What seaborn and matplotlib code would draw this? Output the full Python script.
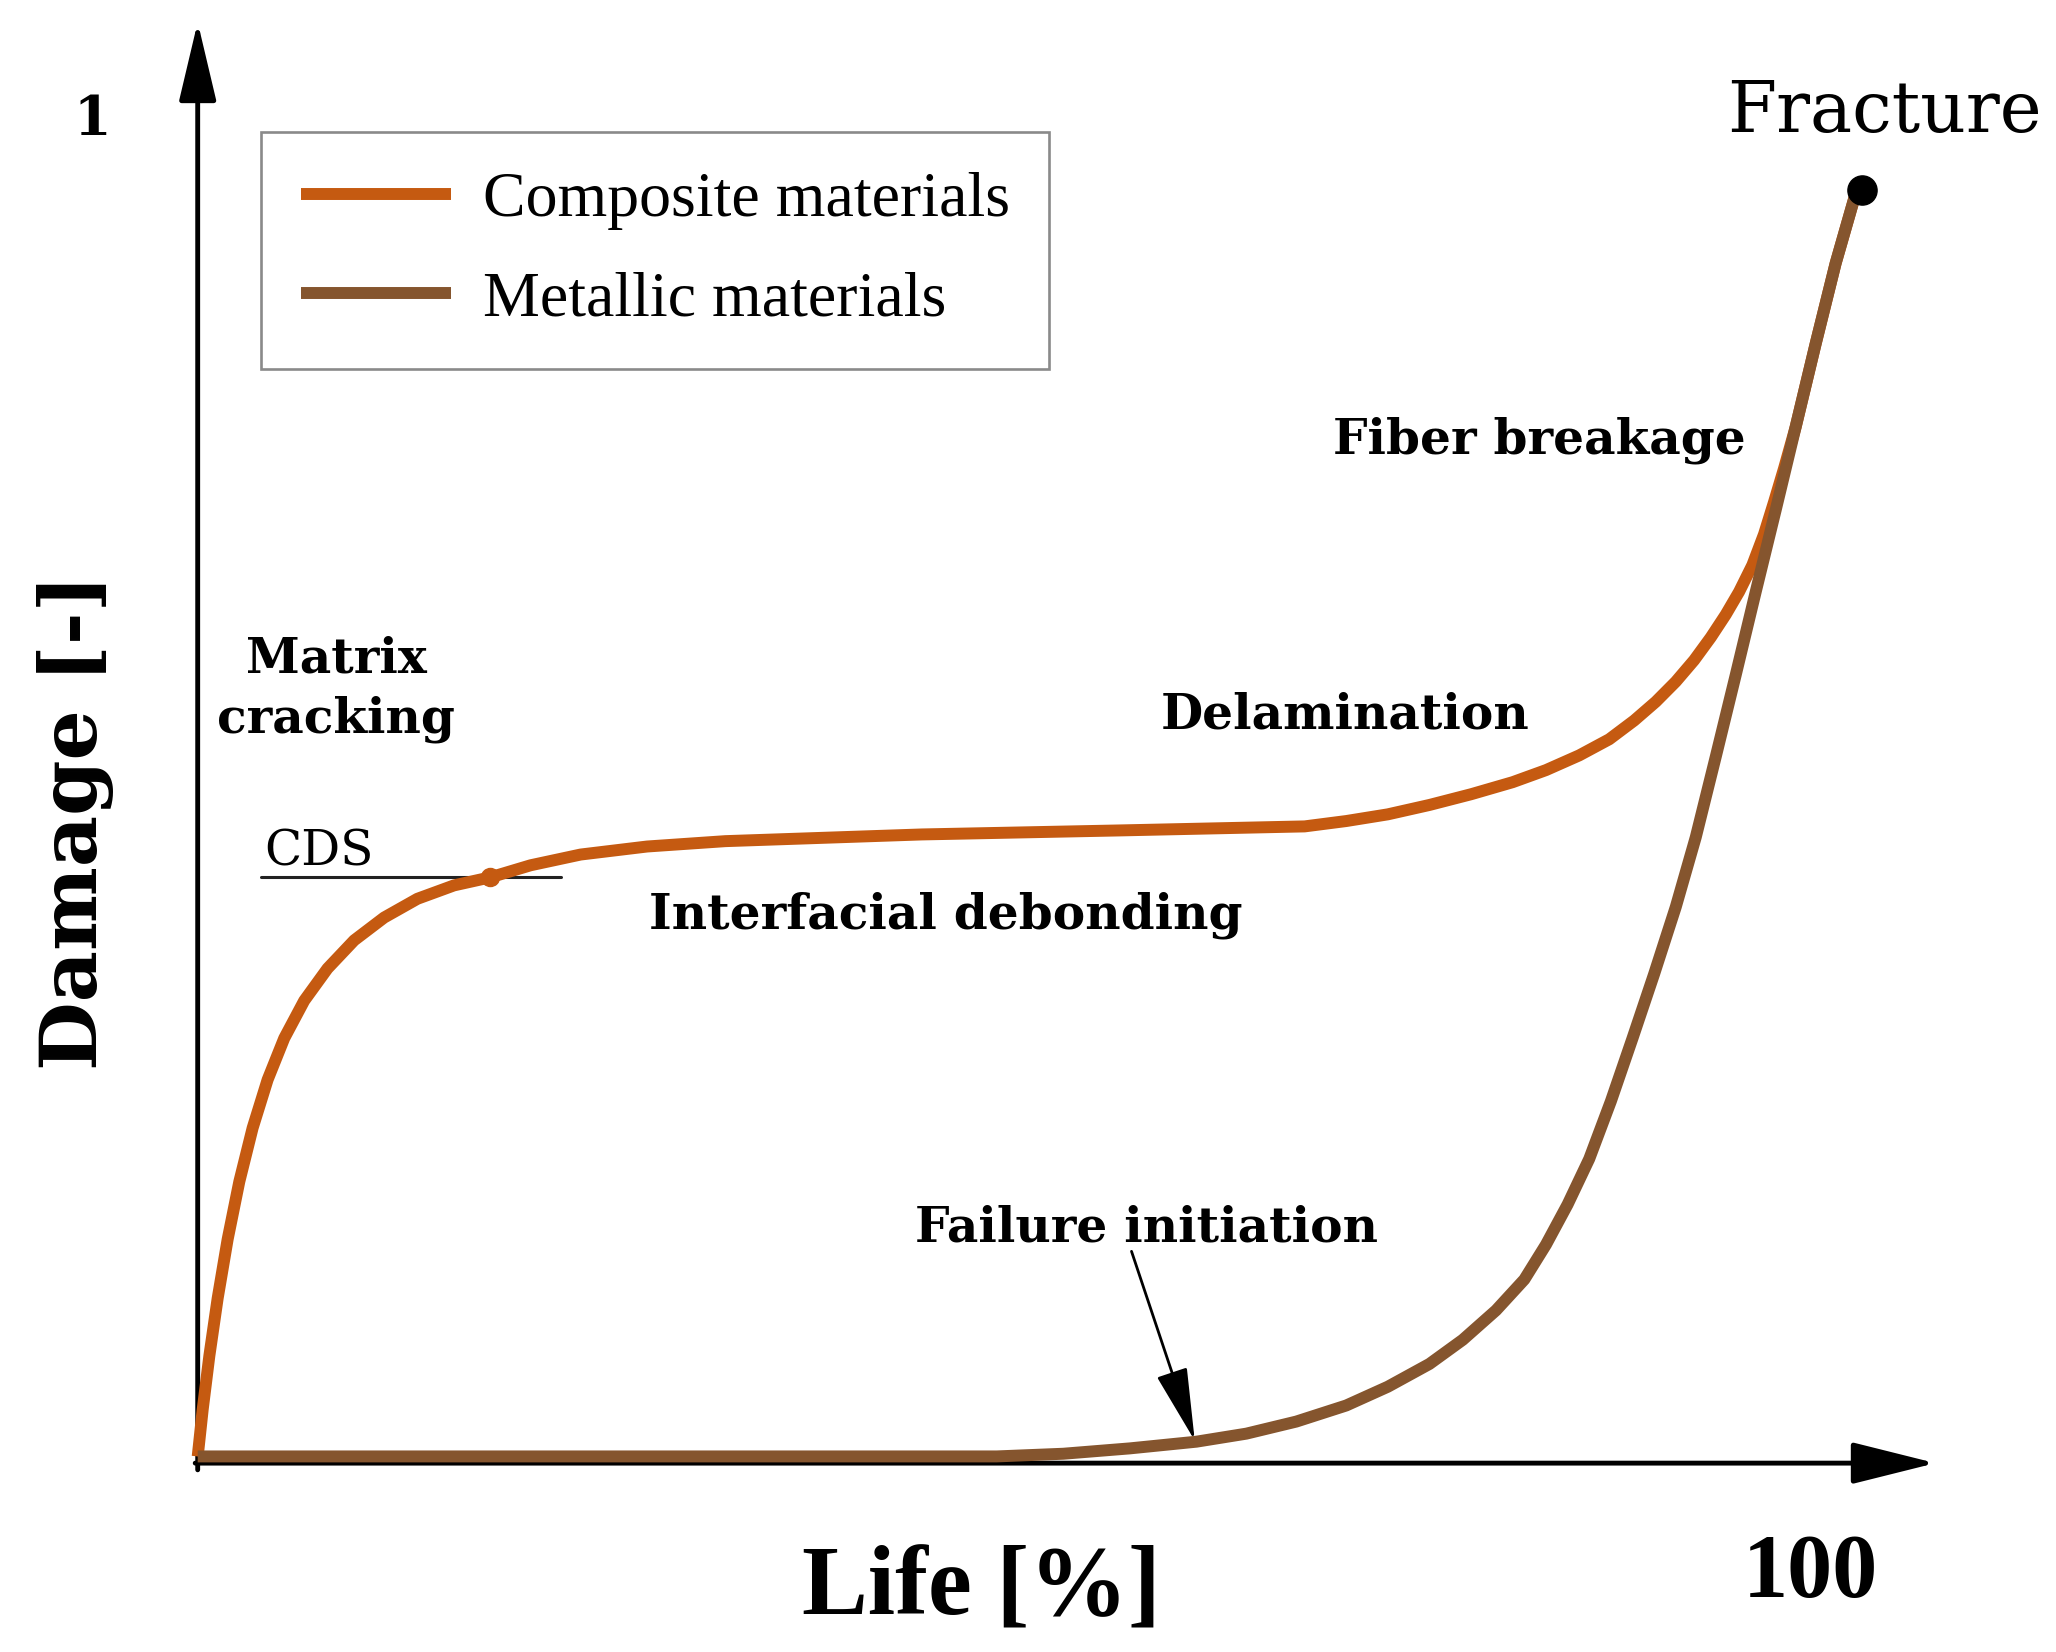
import matplotlib
matplotlib.use("Agg")
import matplotlib.pyplot as plt
from matplotlib.lines import Line2D
import pandas as pd
import seaborn as sns

# values (Life in %, Damage from 0 to 1)
life_composite = [0, 0.3, 0.7, 1.2, 1.8, 2.5, 3.3, 4.2, 5.2, 6.4, 7.8, 9.4, 11.2,
                  13.2, 15.4, 17.58, 20.0, 23.0, 27.0, 31.7, 43.5, 55.4, 66.5,
                  69.0, 71.5, 74.0, 76.5, 79.0, 81.0, 83.0, 84.8, 86.3, 87.6,
                  88.8, 89.9, 90.9, 91.8, 92.6, 93.4, 94.1, 94.7, 95.3, 96.0,
                  97.2, 98.4, 99.6]
damage_composite = [0, 0.035, 0.075, 0.118, 0.162, 0.205, 0.245, 0.281, 0.312,
                    0.340, 0.364, 0.385, 0.402, 0.416, 0.426, 0.432, 0.441, 0.449,
                    0.455, 0.459, 0.464, 0.467, 0.470, 0.474, 0.479, 0.486, 0.494,
                    0.503, 0.512, 0.523, 0.535, 0.549, 0.563, 0.578, 0.594, 0.611,
                    0.628, 0.645, 0.665, 0.688, 0.712, 0.737, 0.768, 0.830, 0.890,
                    0.942]

life_metal = [0, 48, 52, 56, 60, 63, 66, 69, 71.5, 74, 76, 78, 79.7, 81.0, 82.3,
              83.6, 84.9, 86.2, 87.5, 88.8, 90.0, 91.2, 92.4, 93.6, 94.8, 96.0,
              97.2, 98.4, 99.6]
damage_metal = [0, 0, 0.002, 0.006, 0.011, 0.017, 0.026, 0.038, 0.052, 0.069,
                0.087, 0.109, 0.132, 0.158, 0.188, 0.222, 0.265, 0.312, 0.360,
                0.410, 0.462, 0.522, 0.583, 0.645, 0.706, 0.768, 0.830, 0.890,
                0.942]

materials = ["Composite materials", "Metallic materials"]
colors = {"Composite materials": "#C55A11", "Metallic materials": "#85552E"}

cds_life, cds_damage = 17.58, 0.432
fracture_life, fracture_damage = 100, 0.945
failure_life, failure_damage = 59.9, 0.0118

df = pd.concat([
    pd.DataFrame({"Life": life_composite, "Damage": damage_composite, "Material": materials[0]}),
    pd.DataFrame({"Life": life_metal, "Damage": damage_metal, "Material": materials[1]}),
], ignore_index=True)

sns.set_theme(style="white")
plt.rcParams["font.family"] = ["DejaVu Serif", "DejaVu Sans"]
plt.rcParams["text.color"] = "black"

fig = plt.figure(figsize=(20.56, 16.52), dpi=100)
ax = fig.add_axes([0, 0, 1, 1])
ax.set_xlim(-11.877, 111.64)
ax.set_ylim(-0.1459, 1.0865)
ax.set_axis_off()

# axes drawn as arrows
ax.annotate("", xy=(104.4, -0.005), xytext=(-0.15, -0.005),
            arrowprops=dict(arrowstyle="-|>,head_length=2.6,head_width=0.65",
                            color="black", lw=3.5, shrinkA=0, shrinkB=0,
                            mutation_scale=20), zorder=1)
ax.annotate("", xy=(0, 1.07), xytext=(0, -0.01),
            arrowprops=dict(arrowstyle="-|>,head_length=2.45,head_width=0.58",
                            color="black", lw=3.5, shrinkA=0, shrinkB=0,
                            mutation_scale=20), zorder=1)

sns.lineplot(data=df, x="Life", y="Damage", hue="Material", hue_order=materials,
             palette=colors, linewidth=8.6, estimator=None, sort=False,
             legend=False, ax=ax, zorder=3)
for line in ax.get_lines():
    line.set_solid_capstyle("butt")
    line.set_solid_joinstyle("round")

# CDS marker and line
ax.plot([3.8, 21.8], [cds_damage, cds_damage], color="#222222", lw=2.2, zorder=2)
ax.plot([cds_life], [cds_damage], "o", color=colors[materials[0]], ms=13, zorder=4)
ax.plot([fracture_life], [fracture_damage], "o", color="black", ms=21, zorder=5)

# failure initiation arrow
ax.annotate("", xy=(failure_life, failure_damage), xytext=(56.1, 0.153),
            arrowprops=dict(arrowstyle="-|>,head_length=2.3,head_width=0.5",
                            color="black", lw=2, shrinkA=0, shrinkB=0,
                            mutation_scale=20), zorder=6)

# labels
lab = dict(fontsize=35, fontweight="bold", ha="center", va="baseline", color="black")
ax.text(8.31, 0.585, "Matrix", **lab)
ax.text(8.31, 0.540, "cracking", **lab)
ax.text(44.97, 0.394, "Interfacial debonding", **lab)
ax.text(68.9, 0.543, "Delamination", **lab)
ax.text(80.6, 0.748, "Fiber breakage", **lab)
ax.text(57.0, 0.160, "Failure initiation", **lab)
ax.text(7.28, 0.4405, "CDS", fontsize=35, ha="center", va="baseline", color="black")
ax.text(101.35, 0.988, "Fracture", fontsize=51, ha="center", va="baseline", color="black")
ax.text(-6.33, 0.986, "1", fontsize=39, fontweight="bold", ha="center", va="baseline",
        color="black")

ax.text(-7.36, 0.473, "Damage [-]", fontsize=57, fontweight="bold", rotation=90,
        ha="center", va="center", color="black")
ax.text(47.1, -0.118, "Life [%]", fontsize=71, fontweight="bold", ha="center",
        va="baseline", family="Liberation Serif", color="black")
ax.text(96.9, -0.105, "100", fontsize=65, fontweight="bold", ha="center",
        va="baseline", family="Liberation Serif", color="black")

handles = [Line2D([0], [0], color=colors[m], lw=8.6, solid_capstyle="butt") for m in materials]
leg = ax.legend(handles, materials, loc="upper left", bbox_to_anchor=(0.1269, 0.9202),
                bbox_transform=ax.transAxes, borderaxespad=0, frameon=True,
                fancybox=False, framealpha=1, edgecolor="#8a8a8a", labelcolor="black",
                prop={"family": "Liberation Serif", "size": 46},
                handlelength=2.35, handletextpad=0.5, labelspacing=0.63, borderpad=0.62)
leg.get_frame().set_linewidth(1.9)

fig.savefig("out.png", dpi=100, facecolor="white")
